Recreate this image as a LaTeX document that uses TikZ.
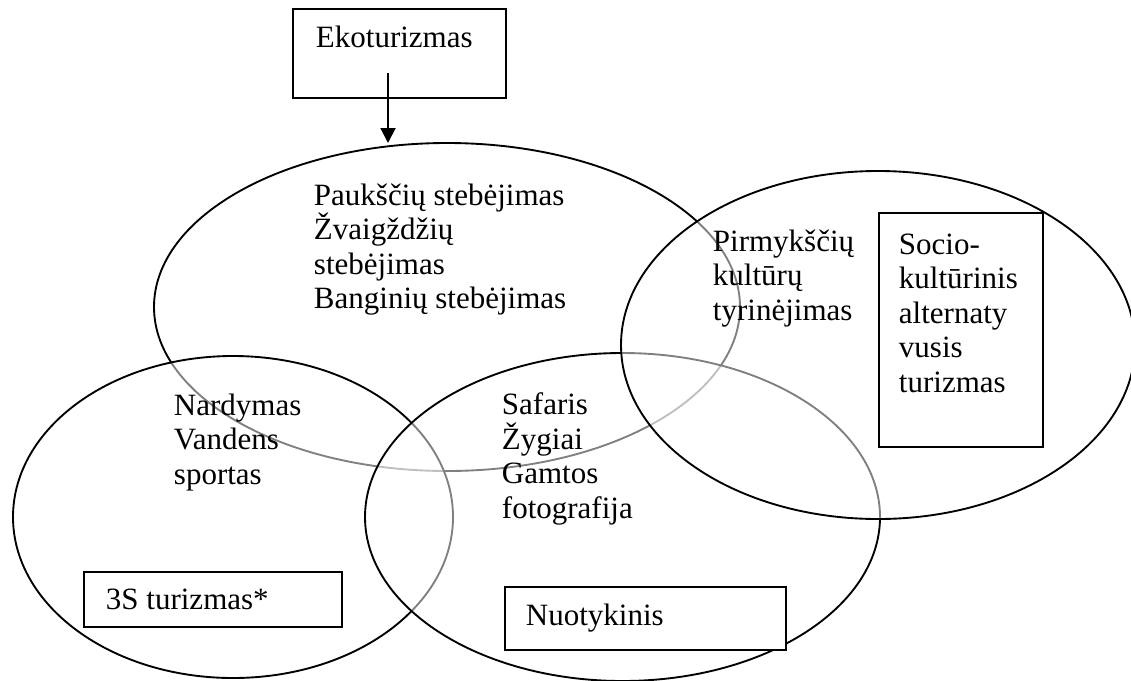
\documentclass[tikz,border=0pt]{standalone}
\usepackage{fontspec}
\setmainfont{Liberation Serif}
\usetikzlibrary{arrows.meta}
\begin{document}
\begin{tikzpicture}[x=0.4pt,y=-0.4pt, line width=0.75pt,
  venn/.style={draw=black, fill=white, fill opacity=0.5},
  box/.style={draw=black, fill=white, rectangle, inner sep=0pt, outer sep=0pt},
  lbl/.style={anchor=base west, inner sep=0pt, align=left, font=\fontsize{12.4}{13.8}\selectfont},
  arr/.style={-{Triangle[length=6pt,width=6pt]}}]
\useasboundingbox (0,0) rectangle (1131,680);
% Venn ellipses (drawing order gives the grey look of covered lines)
\draw[venn] (447,307) ellipse [x radius=293, y radius=164];
\draw[venn] (233,517) ellipse [x radius=220, y radius=161];
\draw[venn] (622.5,517) ellipse [x radius=257.5, y radius=164];
\draw[venn] (878,345) ellipse [x radius=257, y radius=174];
% boxes
\node[box, minimum width=85.2pt, minimum height=35.6pt] (eko) at (399.5,53.5) {};
\node[box, minimum width=103.2pt, minimum height=22pt] (threeS) at (213,599.5) {};
\node[box, minimum width=112.4pt, minimum height=25.2pt] (nuot) at (645.5,618.5) {};
\node[box, minimum width=65.6pt, minimum height=93.6pt] (socio) at (961,330) {};
% arrow
\coordinate (arrstart) at (388,73);
\coordinate (arrend) at (388,143);
\draw[arr] (arrstart) -- (arrend);
% texts (anchor at the baseline of the last line)
\node[lbl] (ekot) at (315,47) {Ekoturizmas};
\node[lbl] (topt) at (313,308.5) {Paukščių stebėjimas\\Žvaigždžių\\stebėjimas\\Banginių stebėjimas};
\node[lbl] (pirt) at (712,320) {Pirmykščių\\kultūrų\\tyrinėjimas};
\node[lbl] (sociot) at (898,392) {Socio-\\kultūrinis\\alternaty\\vusis\\turizmas};
\node[lbl] (nardt) at (173,484) {Nardymas\\Vandens\\sportas};
\node[lbl] (safat) at (501,518) {Safaris\\Žygiai\\Gamtos\\fotografija};
\node[lbl] (threeSt) at (105,609) {3S turizmas*};
\node[lbl] (nuott) at (525,625) {Nuotykinis};
\end{tikzpicture}
\end{document}
